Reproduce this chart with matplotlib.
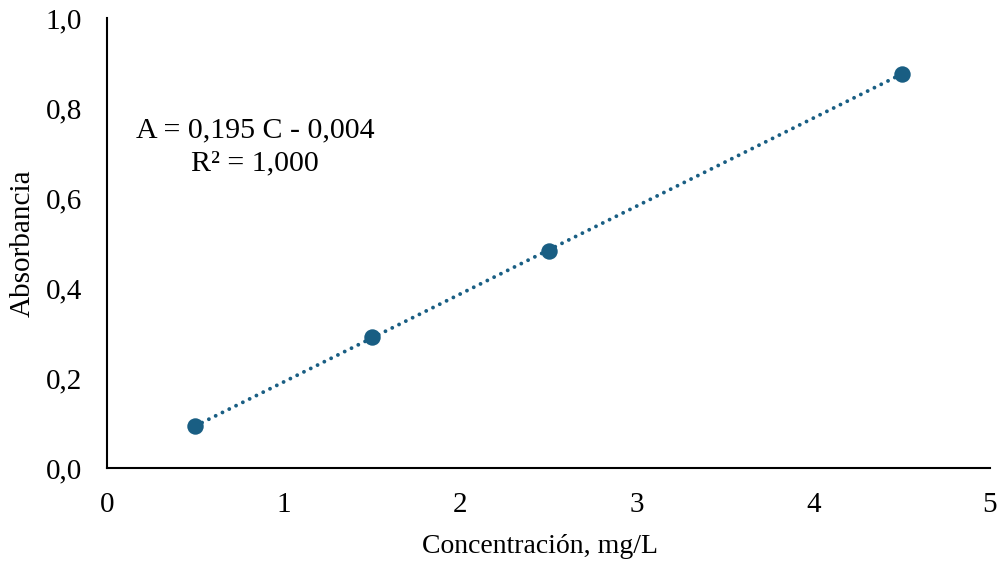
import matplotlib
matplotlib.use("Agg")
import matplotlib.pyplot as plt
import numpy as np
from matplotlib.ticker import FuncFormatter

conc = [0.5, 1.5, 2.5, 4.5]
absorb = [0.093, 0.291, 0.482, 0.876]
x_ticks = [0, 1, 2, 3, 4, 5]
y_ticks = [0.0, 0.2, 0.4, 0.6, 0.8, 1.0]
color = "#195E83"

plt.rcParams['font.family'] = ['Liberation Serif', 'DejaVu Serif']

fig = plt.figure(figsize=(10.03, 5.64), dpi=100)
ax = fig.add_axes([107/1003, 96/564, 883/1003, 450/564])

# trendline
m, b = np.polyfit(conc, absorb, 1)
xs = np.array([min(conc), max(conc)])
ax.plot(xs, m*xs + b, linestyle=(0, (0.001, 1.95)), color=color, linewidth=2.8,
        dash_capstyle='round', solid_capstyle='round')
ax.scatter(conc, absorb, s=140, color=color, zorder=3, linewidths=0)

ax.set_xlim(0, 5)
ax.set_ylim(0, 1.0)
ax.set_xticks(x_ticks)
ax.set_yticks(y_ticks)
ax.xaxis.set_major_formatter(FuncFormatter(lambda v, p: f"{v:.0f}"))
ax.yaxis.set_major_formatter(FuncFormatter(lambda v, p: f"{v:.1f}".replace('.', ',')))
ax.tick_params(length=0, labelsize=21)
ax.tick_params(axis='y', pad=18)
ax.tick_params(axis='x', pad=17)
for s in ['top', 'right']:
    ax.spines[s].set_visible(False)
for s in ['left', 'bottom']:
    ax.spines[s].set_linewidth(1.5)
    ax.spines[s].set_color('black')

fig.text(540/1003, 1 - 553/564, "Concentración, mg/L", fontsize=20, ha='center', va='baseline')
fig.text(23/1003, 1 - 243/564, "Absorbancia", fontsize=21, rotation=90, ha='center', va='center')

ax.text(255/1003, (564-147)/564, "A = 0,195 C - 0,004\nR² = 1,000", transform=fig.transFigure,
        ha='center', va='center', fontsize=21.5, linespacing=1.33)

fig.savefig("out.png", dpi=100)
